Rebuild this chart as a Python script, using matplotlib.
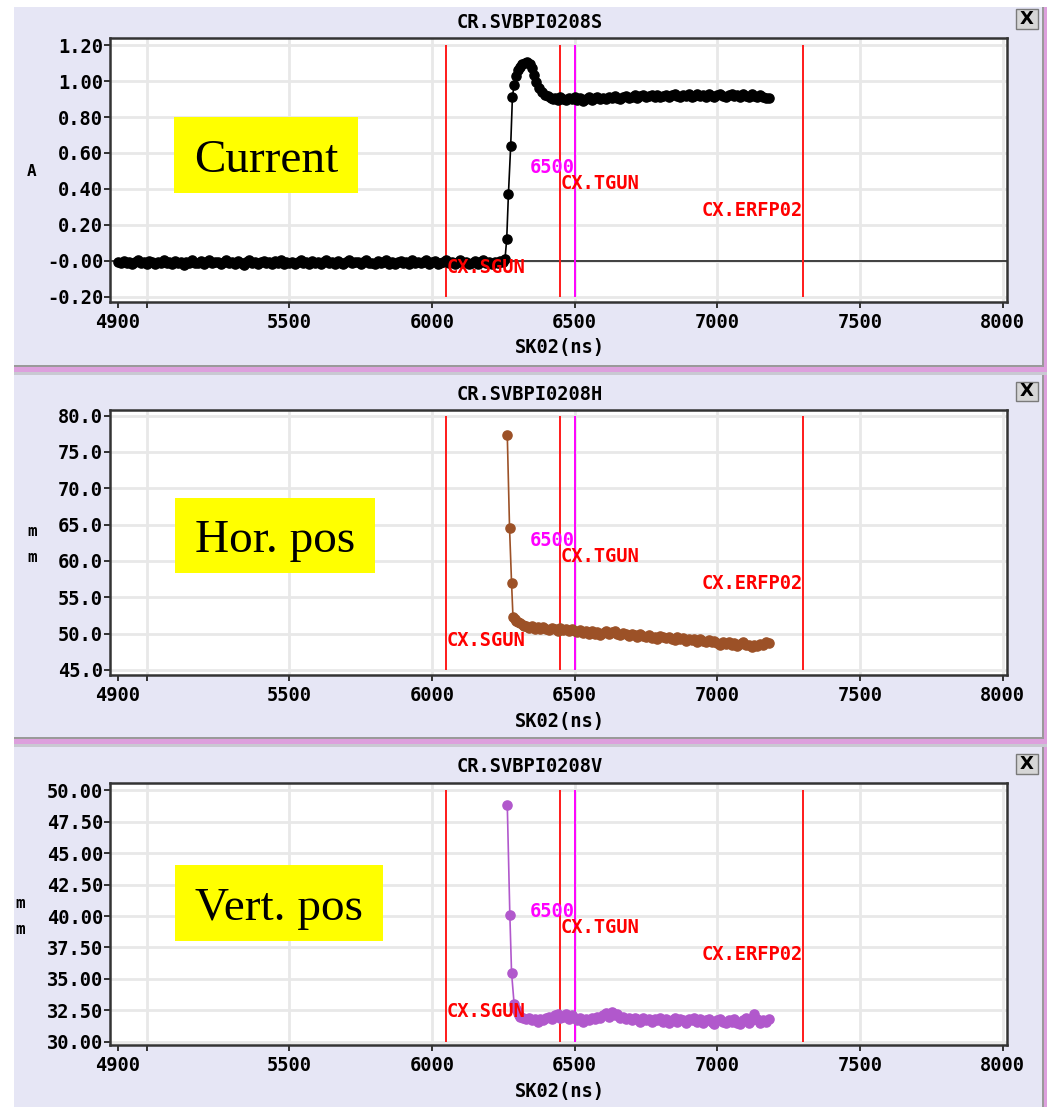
import matplotlib
matplotlib.use("Agg")
import matplotlib.pyplot as plt
from matplotlib.patches import Rectangle
from matplotlib.transforms import blended_transform_factory

W, H = 1056, 1107

# ---------------- data ----------------
x_ticks = [5000, 5500, 6000, 6500, 7000, 7500, 8000]
x_tick_labels = ["", "5500", "6000", "6500", "7000", "7500", "8000"]
x_first_tick = 4900

marker_names = ["CX.SGUN", "CX.TGUN", "6500", "CX.ERFP02"]
marker_x = [6050, 6450, 6500, 7300]

# Current (A)
cur_flat_x = [4900, 4910, 4920, 4930, 4940, 4950, 4960, 4970, 4980, 4990,
              5000, 5010, 5020, 5030, 5040, 5050, 5060, 5070, 5080, 5090,
              5100, 5110, 5120, 5130, 5140, 5150, 5160, 5170, 5180, 5190,
              5200, 5210, 5220, 5230, 5240, 5250, 5260, 5270, 5280, 5290,
              5300, 5310, 5320, 5330, 5340, 5350, 5360, 5370, 5380, 5390,
              5400, 5410, 5420, 5430, 5440, 5450, 5460, 5470, 5480, 5490,
              5500, 5510, 5520, 5530, 5540, 5550, 5560, 5570, 5580, 5590,
              5600, 5610, 5620, 5630, 5640, 5650, 5660, 5670, 5680, 5690,
              5700, 5710, 5720, 5730, 5740, 5750, 5760, 5770, 5780, 5790,
              5800, 5810, 5820, 5830, 5840, 5850, 5860, 5870, 5880, 5890,
              5900, 5910, 5920, 5930, 5940, 5950, 5960, 5970, 5980, 5990,
              6000, 6010, 6020, 6030, 6040, 6050, 6060, 6070, 6080, 6090,
              6100, 6110, 6120, 6130, 6140, 6150, 6160, 6170, 6180, 6190,
              6200, 6210, 6220, 6230, 6240, 6250]
cur_flat_y = [-0.004, -0.011, -0.001, -0.014, -0.007, -0.018, -0.005, 0.004, -0.012, -0.006,
              -0.015, -0.002, -0.008, -0.019, -0.004, -0.010, 0.005, -0.013, -0.006, -0.016,
              -0.001, -0.011, -0.007, -0.020, -0.005, -0.009, 0.006, -0.014, -0.010, -0.002,
              -0.017, -0.006, 0.003, -0.012, -0.008, -0.003, -0.018, -0.007, 0.004, -0.011,
              -0.005, -0.015, -0.002, -0.010, -0.020, -0.006, 0.005, -0.013, -0.004, -0.016,
              -0.008, 0.001, -0.014, -0.006, -0.017, -0.002, -0.010, 0.006, -0.015, -0.007,
              -0.011, -0.003, -0.018, -0.008, 0.004, -0.014, -0.005, -0.016, -0.001, -0.010,
              -0.006, -0.019, -0.003, 0.005, -0.013, -0.007, -0.015, -0.002, -0.011, -0.017,
              -0.005, 0.003, -0.014, -0.008, -0.003, -0.018, -0.006, 0.004, -0.013, -0.010,
              -0.016, -0.002, -0.011, -0.006, 0.006, -0.015, -0.008, -0.019, -0.005, -0.001,
              -0.012, -0.007, -0.017, 0.003, -0.010, -0.003, -0.014, -0.006, 0.005, -0.016,
              -0.008, -0.002, -0.018, -0.011, -0.005, 0.004, -0.014, -0.007, -0.015, -0.003,
              0.005, -0.012, -0.006, -0.017, -0.010, -0.001, -0.015, -0.005, 0.003, -0.011,
              -0.007, -0.016, -0.003, -0.010, -0.002, -0.006]
cur_rise_x = [6256, 6262, 6268, 6276, 6282, 6288, 6294, 6300, 6308, 6316, 6326,
              6334, 6342, 6350, 6358, 6366, 6376, 6386, 6396, 6406, 6416, 6424]
cur_rise_y = [0.010, 0.12, 0.37, 0.64, 0.91, 0.98, 1.03, 1.06, 1.08, 1.095, 1.10,
              1.105, 1.095, 1.07, 1.035, 0.995, 0.96, 0.94, 0.925, 0.915, 0.908, 0.902]
cur_band_x = [6430, 6440, 6450, 6460, 6470, 6480, 6490, 6500, 6510, 6520,
              6530, 6540, 6550, 6560, 6570, 6580, 6590, 6600, 6610, 6620,
              6630, 6640, 6650, 6660, 6670, 6680, 6690, 6700, 6710, 6720,
              6730, 6740, 6750, 6760, 6770, 6780, 6790, 6800, 6810, 6820,
              6830, 6840, 6850, 6860, 6870, 6880, 6890, 6900, 6910, 6920,
              6930, 6940, 6950, 6960, 6970, 6980, 6990, 7000, 7010, 7020,
              7030, 7040, 7050, 7060, 7070, 7080, 7090, 7100, 7110, 7120,
              7130, 7140, 7150, 7160, 7170, 7180]
cur_band_y = [0.903, 0.897, 0.910, 0.902, 0.893, 0.907, 0.899, 0.912, 0.896, 0.904,
              0.891, 0.901, 0.909, 0.895, 0.904, 0.913, 0.899, 0.907, 0.901, 0.911,
              0.903, 0.914, 0.907, 0.900, 0.912, 0.917, 0.905, 0.913, 0.920, 0.908,
              0.914, 0.922, 0.910, 0.918, 0.925, 0.912, 0.920, 0.909, 0.916, 0.924,
              0.913, 0.921, 0.928, 0.914, 0.910, 0.922, 0.916, 0.926, 0.912, 0.919,
              0.927, 0.915, 0.922, 0.911, 0.929, 0.918, 0.913, 0.923, 0.930, 0.916,
              0.911, 0.922, 0.928, 0.914, 0.921, 0.910, 0.926, 0.918, 0.912, 0.929,
              0.919, 0.913, 0.923, 0.911, 0.908, 0.903]

# Horizontal position (mm)
hor_x = [6264, 6272, 6279, 6284, 6290, 6296, 6302, 6310, 6318, 6324,
         6330, 6340, 6350, 6360, 6370, 6380, 6390, 6400, 6410, 6420,
         6430, 6440, 6450, 6460, 6470, 6480, 6490, 6500, 6510, 6520,
         6530, 6540, 6550, 6560, 6570, 6580, 6590, 6600, 6610, 6620,
         6630, 6640, 6650, 6660, 6670, 6680, 6690, 6700, 6710, 6720,
         6730, 6740, 6750, 6760, 6770, 6780, 6790, 6800, 6810, 6820,
         6830, 6840, 6850, 6860, 6870, 6880, 6890, 6900, 6910, 6920,
         6930, 6940, 6950, 6960, 6970, 6980, 6990, 7000, 7010, 7020,
         7030, 7040, 7050, 7060, 7070, 7080, 7090, 7100, 7110, 7120,
         7130, 7140, 7150, 7160, 7170, 7180]
hor_y = [77.4, 64.5, 57.0, 52.3, 52.0, 51.8, 51.6, 51.4, 51.2, 51.1,
         51.0, 50.8, 51.1, 50.7, 50.9, 50.6, 50.9, 50.7, 50.5, 50.8,
         50.6, 50.4, 50.8, 50.5, 50.7, 50.3, 50.6, 50.4, 50.2, 50.5,
         50.1, 50.4, 49.9, 50.3, 50.0, 50.2, 49.8, 50.1, 50.3, 49.9,
         50.2, 50.4, 50.0, 49.8, 50.1, 49.9, 49.7, 50.0, 49.8, 49.6,
         49.9, 49.7, 49.5, 49.8, 49.4, 49.6, 49.3, 49.7, 49.5, 49.4,
         49.6, 49.3, 49.1, 49.5, 49.2, 49.4, 49.0, 49.3, 49.1, 49.2,
         48.9, 49.2, 49.0, 48.8, 49.1, 48.9, 49.0, 48.7, 48.5, 48.9,
         48.6, 48.8, 48.4, 48.7, 48.3, 48.6, 48.8, 48.4, 48.5, 48.2,
         48.5, 48.3, 48.6, 48.4, 48.8, 48.7]

# Vertical position (mm)
ver_x = [6264, 6273, 6279, 6288, 6294, 6300, 6306,
         6310, 6320, 6330, 6340, 6350, 6360, 6370, 6380, 6390, 6400,
         6410, 6420, 6430, 6440, 6450, 6460, 6470, 6480, 6490, 6500,
         6510, 6520, 6530, 6540, 6550, 6560, 6570, 6580, 6590, 6600,
         6610, 6620, 6630, 6640, 6650, 6660, 6670, 6680, 6690, 6700,
         6710, 6720, 6730, 6740, 6750, 6760, 6770, 6780, 6790, 6800,
         6810, 6820, 6830, 6840, 6850, 6860, 6870, 6880, 6890, 6900,
         6910, 6920, 6930, 6940, 6950, 6960, 6970, 6980, 6990, 7000,
         7010, 7020, 7030, 7040, 7050, 7060, 7070, 7080, 7090, 7100,
         7110, 7120, 7130, 7140, 7150, 7160, 7170, 7180]
ver_y = [48.85, 40.1, 35.5, 33.0, 32.6, 32.3, 32.1,
         32.0, 31.9, 31.8, 31.9, 31.7, 31.8, 31.6, 31.8, 31.7, 31.9,
         32.0, 31.8, 32.1, 32.2, 31.9, 32.0, 32.2, 31.8, 32.1, 31.9,
         31.7, 31.9, 31.6, 31.8, 31.7, 31.9, 31.8, 32.0, 31.9, 32.1,
         32.3, 32.0, 32.4, 32.1, 32.2, 31.9, 32.0, 31.8, 31.9, 31.7,
         31.9, 31.8, 31.6, 31.9, 31.7, 31.8, 31.6, 31.8, 31.7, 31.9,
         31.6, 31.8, 31.5, 31.7, 31.9, 31.6, 31.8, 31.7, 31.5, 31.8,
         31.7, 31.9, 31.6, 31.8, 31.5, 31.7, 31.8, 31.6, 31.4, 31.7,
         31.8, 31.6, 31.5, 31.7, 31.6, 31.8, 31.5, 31.4, 31.7, 31.9,
         31.5, 31.7, 32.2, 31.8, 31.5, 31.7, 31.6, 31.8]

cur_ticks = [-0.2, 0.0, 0.2, 0.4, 0.6, 0.8, 1.0, 1.2]
cur_tick_labels = ["-0.20", "-0.00", "0.20", "0.40", "0.60", "0.80", "1.00", "1.20"]
hor_ticks = [45, 50, 55, 60, 65, 70, 75, 80]
hor_tick_labels = ["45.0", "50.0", "55.0", "60.0", "65.0", "70.0", "75.0", "80.0"]
ver_ticks = [30, 32.5, 35, 37.5, 40, 42.5, 45, 47.5, 50]
ver_tick_labels = ["30.00", "32.50", "35.00", "37.50", "40.00", "42.50", "45.00", "47.50", "50.00"]

titles = ["CR.SVBPI0208S", "CR.SVBPI0208H", "CR.SVBPI0208V"]
badges = ["Current", "Hor. pos", "Vert. pos"]

# ---------------- style ----------------
LAV = "#e6e6f5"
MONO = "DejaVu Sans Mono"
FS = 13.5

fig = plt.figure(figsize=(W / 100, H / 100), dpi=100)
fig.patch.set_facecolor("white")


def fx(x):
    return x / W


def fy(y):
    return 1 - y / H


def rect(x0, y0, x1, y1, fc, ec="none", lw=0, z=0):
    r = Rectangle((fx(x0), fy(y1)), (x1 - x0) / W, (y1 - y0) / H,
                  transform=fig.transFigure, facecolor=fc, edgecolor=ec,
                  linewidth=lw, zorder=z)
    fig.add_artist(r)
    return r


panels = [
    dict(top=7, bottom=365, ax=(38, 302), title_y=22, xbtn=(9, 29),
         ylim=(-0.228, 1.239), ticks=cur_ticks, labels=cur_tick_labels,
         ylab=[(32, 171, "A")], badge=(174, 117, 358, 193)),
    dict(top=375, bottom=737, ax=(410, 675), title_y=394, xbtn=(382, 401),
         ylim=(44.31, 80.78), ticks=hor_ticks, labels=hor_tick_labels,
         ylab=[(32, 532, "m"), (32, 558, "m")], badge=(175, 498, 375, 573)),
    dict(top=747, bottom=1107, ax=(783, 1045), title_y=766, xbtn=(754, 774),
         ylim=(29.74, 50.58), ticks=ver_ticks, labels=ver_tick_labels,
         ylab=[(20, 903, "m"), (20, 930, "m")], badge=(175, 865, 383, 941)),
]

series = [
    (cur_flat_x + cur_rise_x + cur_band_x, cur_flat_y + cur_rise_y + cur_band_y, "black"),
    (hor_x, hor_y, "#9c5127"),
    (ver_x, ver_y, "#b158cc"),
]

label_frac = {"CX.SGUN": 0.129, "CX.TGUN": 0.447, "6500": 0.508, "CX.ERFP02": 0.345}

for i, p in enumerate(panels):
    t, b = p["top"], p["bottom"]
    rect(14, t, 1042, b, LAV)
    rect(1042, t, 1043.5, b + 7, "#9a9a9a")
    rect(1043.5, t, 1047, b + 7, "#dda0dd")
    rect(14, b, 1043.5, b + 2.3, "#9a9a9a")
    rect(14, b + 2.3, 1047, b + 6.7, "#dda0dd")
    rect(14, b + 6.7, 1047, b + 9.5, "#c9c9d2")

    # close button
    y0, y1 = p["xbtn"]
    rect(1016, y0, 1038, y1, "#d6d6d6", ec="#7a7a7a", lw=1, z=2)
    fig.text(fx(1027), fy((y0 + y1) / 2), "X", ha="center", va="center",
             fontsize=13, fontweight="bold", family="DejaVu Sans", zorder=3)

    at, ab = p["ax"]
    ax = fig.add_axes([fx(110), fy(ab), 897 / W, (ab - at) / H])
    ax.set_facecolor("white")
    ax.set_xlim(4872, 8015)
    ax.set_ylim(*p["ylim"])

    ax.set_xticks(x_ticks)
    ax.set_xticklabels(x_tick_labels)
    ax.set_xticks([x_first_tick], minor=True)
    ax.set_xticklabels([str(x_first_tick)], minor=True)
    ax.set_yticks(p["ticks"])
    ax.set_yticklabels(p["labels"])
    ax.tick_params(axis="both", which="both", direction="out", length=4.5,
                   width=1.3, color="#222222", labelsize=FS)
    ax.tick_params(axis="x", which="both", pad=3.5)
    ax.tick_params(axis="y", which="both", pad=0.5)
    for lab in ax.get_xticklabels(which="both") + ax.get_yticklabels():
        lab.set_fontfamily(MONO)
        lab.set_fontweight("bold")
    ax.grid(True, which="major", color="#e8e8e8", lw=2)
    ax.set_axisbelow(True)
    for s in ax.spines.values():
        s.set_color("#333333")
        s.set_linewidth(1.8)

    if i == 0:
        ax.axhline(0, color="#333333", lw=1.3, zorder=1)

    ylo, yhi = p["ticks"][0], p["ticks"][-1]
    for name, xv in zip(marker_names, marker_x):
        col = "#ff00ff" if name == "6500" else "#ff1a1a"
        ax.vlines(xv, ylo, yhi, color=col, lw=1.4, zorder=2)

    xs, ys, col = series[i]
    ax.plot(xs, ys, "-o", color=col, lw=1.2, ms=6.6, zorder=3)

    tr = blended_transform_factory(ax.transData, ax.transAxes)
    for name, xv in zip(marker_names, marker_x):
        col = "#ff00ff" if name == "6500" else "#ff0000"
        ha = "right" if name in ("6500", "CX.ERFP02") else "left"
        ax.text(xv, label_frac[name], name, transform=tr, color=col, ha=ha,
                va="center", fontsize=FS, fontweight="bold", family=MONO, zorder=4)

    # title and x label
    fig.text(fx(530), fy(p["title_y"]), titles[i], ha="center", va="center",
             fontsize=FS, fontweight="bold", family=MONO)
    fig.text(fx(560), fy(ab + 46), "SK02(ns)", ha="center", va="center",
             fontsize=FS, fontweight="bold", family=MONO)
    for (lx, ly, lt) in p["ylab"]:
        fig.text(fx(lx), fy(ly), lt, ha="center", va="center",
                 fontsize=11.5, fontweight="bold", family=MONO)

    # yellow badge
    bx0, by0, bx1, by1 = p["badge"]
    rect(bx0, by0, bx1, by1, "#ffff00", z=5)
    fig.text(fx((bx0 + bx1) / 2), fy((by0 + by1) / 2 + 16.5), badges[i],
             ha="center", va="baseline", fontsize=34, family="Liberation Serif",
             zorder=6)

fig.savefig("out.png", dpi=100, facecolor="white")
